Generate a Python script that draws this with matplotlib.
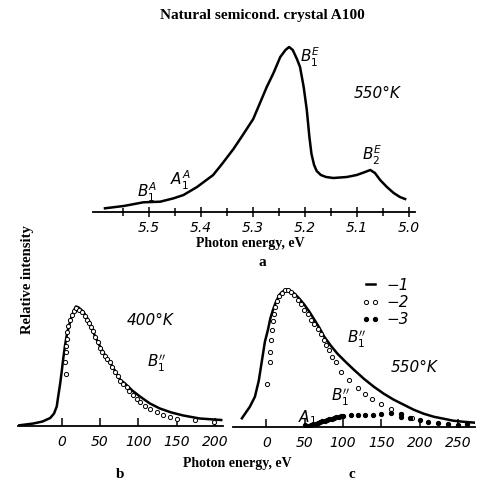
import matplotlib
matplotlib.use('Agg')
import matplotlib.pyplot as plt

W, H = 480.0, 482.0
SANS = ['DejaVu Sans']
SERIF = ['Liberation Serif', 'DejaVu Serif']

# panel a: 550 K spectrum vs photon energy (eV)
a_energy = [5.585, 5.549, 5.511, 5.479, 5.453, 5.434, 5.408, 5.377, 5.36, 5.338, 5.32,
            5.30, 5.287, 5.274, 5.261, 5.248, 5.238, 5.231, 5.224, 5.216, 5.210,
            5.203, 5.197, 5.192, 5.188, 5.183, 5.178, 5.170, 5.160, 5.146, 5.120,
            5.101, 5.085, 5.075, 5.066, 5.056, 5.043, 5.030, 5.018, 5.008]
a_int = [3.7, 6, 9.7, 10.3, 13.7, 17, 25, 37, 48, 63, 77,
         93, 109, 125, 139, 155, 162, 165, 162, 153, 145,
         125, 102, 75, 58, 47, 41, 37, 35, 34, 35,
         37, 40, 42, 39, 32, 25, 19, 15, 13]

# panel b: 400 K, curve (1) and points (2)
b_energy = [-57, -37, -25, -15, -10, -6.5, -4.4, -2, 0, 2, 4.3, 6.5, 8.6, 11, 13, 16,
            18.6, 22, 28, 36, 43, 50, 56, 63, 70, 76, 82.5, 92, 102, 115, 128, 143,
            158.5, 180, 208]
b_int = [0, 2, 4, 7.5, 12, 19, 30, 42, 54, 67, 80, 90, 97, 104, 109, 115,
         119, 118, 114, 104, 90, 79, 71, 63, 54, 46, 42, 35, 29, 22, 17, 13,
         10, 7, 5.5]
b_pts_energy = [5.6, 4.3, 5.2, 5.6, 6.5, 7.3, 8.6, 10.8, 13, 16, 18.6, 23, 27, 30.4,
                33.4, 36, 38.2, 40.4, 43.4, 47.7, 50, 53, 56.5, 59.5, 63, 65, 69.5,
                73, 76, 80, 84.7, 88, 92.5, 97.7, 102, 108.6, 115, 124, 132.5, 141,
                150, 174, 198]
b_pts_int = [52, 64, 74, 80, 87, 94, 100, 106, 111, 115, 118, 116, 114, 110,
             106, 103, 99, 95, 89, 84, 78, 74, 70, 67, 64, 59, 54,
             50, 45, 42, 39, 35, 31, 27, 24, 20, 17, 14, 11, 9,
             6.5, 5.5, 4]

# panel c: 550 K, curve (1), points (2), points (3)
c_energy = [-32, -21.6, -15, -10, -6.5, -2, 2, 5, 8.6, 12, 17, 21, 26, 31, 36.6, 43,
            49.5, 56, 62.5, 69, 75.4, 84, 92.6, 103, 114, 127, 140, 153, 166, 179,
            192, 205, 218, 231, 243.6, 256, 272]
c_int = [8.4, 20, 30, 46, 63, 85, 97, 108, 117, 124, 132, 135, 137, 136, 133, 128,
         122, 115, 107, 99, 90, 81, 73, 65, 57, 48, 40, 33, 27, 22,
         17, 13, 10, 8, 6, 5, 4]
c2_energy = [0.8, 4.3, 4.3, 6.5, 7.3, 8.6, 9.9, 11.6, 14.2, 17, 20, 23.7, 28, 32.3,
             36.6, 41, 45, 49.5, 54, 58, 62.5, 66.8, 71, 75.4, 77.6, 82, 86, 90.5,
             97, 108, 119.4, 129, 138, 149, 162, 175, 190]
c2_int = [43, 65, 75, 87, 97, 106, 113, 120, 126, 131, 134, 137, 137, 135,
          132, 127, 123, 117, 113, 107, 103, 98, 93, 87, 82, 77, 70, 65,
          55, 47, 39, 33, 28, 23, 18, 13, 9]
c3_energy = [50, 55, 58, 61, 64, 67, 70, 73, 76, 79, 82, 85, 88, 91, 94, 97, 100,
             110, 119, 129, 139, 150, 162, 175, 175, 187.5, 200, 211, 224, 237, 250, 261]
c3_int = [2, 1, 1.8, 2.5, 3.2, 4, 4.6, 5.3, 6, 6.7, 7.4, 8, 8.7, 9.3, 9.9, 10.4, 11,
          11.7, 11.7, 11.7, 11.7, 12.4, 13.3, 12.4, 9.5, 8.4, 6.7, 5, 3.3, 2.3, 1.7, 2.5]

a_ticks = [5.5, 5.4, 5.3, 5.2, 5.1, 5.0]
b_ticks = [0, 50, 100, 150, 200]
c_ticks = [0, 50, 100, 150, 200, 250]


def px_axes(fig, left, right, bottom, top):
    # axes placed in reference pixel coordinates (y measured from top)
    return fig.add_axes([left / W, (H - bottom) / H, (right - left) / W, (bottom - top) / H])


def style(ax):
    for s in ['left', 'right', 'top']:
        ax.spines[s].set_visible(False)
    ax.spines['bottom'].set_linewidth(1.3)
    ax.set_yticks([])
    ax.patch.set_alpha(0)
    ax.tick_params(axis='x', which='major', direction='inout', length=7, width=1.1, pad=3)
    ax.tick_params(axis='x', which='minor', direction='inout', length=6, width=1.1)
    for lab in ax.get_xticklabels():
        lab.set_family(SANS)
        lab.set_style('italic')
        lab.set_fontsize(10)


fig = plt.figure(figsize=(W / 100, H / 100), dpi=100)
tkw = dict(family=SANS, style='italic', fontsize=11, ha='center', va='center')

# ---- panel a
ax = px_axes(fig, 93, 415, 212, 40)
ax.plot(a_energy, a_int, color='black', lw=1.8)
ax.set_xlim(5.608, 4.989)
ax.set_ylim(0, 172)
ax.set_xticks(a_ticks)
ax.set_xticklabels([str(t) for t in a_ticks])
ax.set_xticks([5.55, 5.45, 5.35, 5.25, 5.15, 5.05], minor=True)
style(ax)
ax.text(5.504, 20, r'$B_1^A$', **tkw)
ax.text(5.44, 32, r'$A_1^A$', **tkw)
ax.text(5.190, 155, r'$B_1^E$', **tkw)
ax.text(5.071, 57, r'$B_2^E$', **tkw)
ax.text(5.062, 119, '550°K', **tkw)

# ---- panel b
ax = px_axes(fig, 18, 223, 425.5, 289.5)
ax.plot(b_energy, b_int, color='black', lw=1.8)
ax.plot(b_pts_energy, b_pts_int, ls='none', marker='o', ms=3, mfc='white',
        mec='black', mew=0.7)
ax.set_xlim(-57, 210.3)
ax.set_ylim(0, 136)
ax.set_xticks(b_ticks)
ax.set_xticklabels([str(t) for t in b_ticks])
style(ax)
ax.tick_params(axis='x', which='major', direction='in', length=6, pad=7)
ax.text(115, 105, '400°K', **tkw)
ax.text(124, 62, r"$B_1^{\prime\prime}$", **tkw)

# ---- panel c
ax = px_axes(fig, 233, 475, 426.7, 276.7)
ax.plot(c_energy, c_int, color='black', lw=1.8, label='\u22121')
ax.plot(c2_energy, c2_int, ls='none', marker='o', ms=3, mfc='white',
        mec='black', mew=0.7, label='\u22122')
ax.plot(c3_energy, c3_int, ls='none', marker='o', ms=2.8, color='black',
        label='\u22123')
ax.set_xlim(-43.6, 272)
ax.set_ylim(0, 150)
ax.set_xticks(c_ticks)
ax.set_xticklabels([str(t) for t in c_ticks])
style(ax)
ax.tick_params(axis='x', which='major', direction='in', length=6, pad=7)
ax.text(118, 87, r"$B_1^{\prime\prime}$", **tkw)
ax.text(192, 59, '550°K', **tkw)
ax.text(97, 29, r"$B_1^{\prime\prime}$", **tkw)
ax.text(54, 9, r'$A_1$', **tkw)
ax.legend(loc='upper left', bbox_to_anchor=(354 / W, (H - 270) / H),
          bbox_transform=fig.transFigure, frameon=False, numpoints=2,
          handlelength=1.2, handletextpad=0.4, labelspacing=0.15,
          borderpad=0, prop=dict(family=SANS, style='italic', size=11))

# ---- shared texts
fig.text(262 / W, 1 - 15 / H, 'Natural semicond. crystal A100', family=SERIF,
         weight='bold', fontsize=11, ha='center', va='center')
fig.text(250 / W, 1 - 244 / H, 'Photon energy, eV', family=SERIF,
         weight='bold', fontsize=10, ha='center', va='center')
fig.text(262 / W, 1 - 262 / H, 'a', family=SERIF, weight='bold', fontsize=11,
         ha='center', va='center')
fig.text(237 / W, 1 - 463 / H, 'Photon energy, eV', family=SERIF,
         weight='bold', fontsize=10, ha='center', va='center')
fig.text(120 / W, 1 - 475 / H, 'b', family=SERIF, weight='bold', fontsize=11,
         ha='center', va='center')
fig.text(352 / W, 1 - 475 / H, 'c', family=SERIF, weight='bold', fontsize=11,
         ha='center', va='center')
fig.text(27 / W, 1 - 280 / H, 'Relative intensity', family=SERIF,
         weight='bold', fontsize=10.5, rotation=90, ha='center', va='center')

fig.savefig('out.png', dpi=100, facecolor='white')
